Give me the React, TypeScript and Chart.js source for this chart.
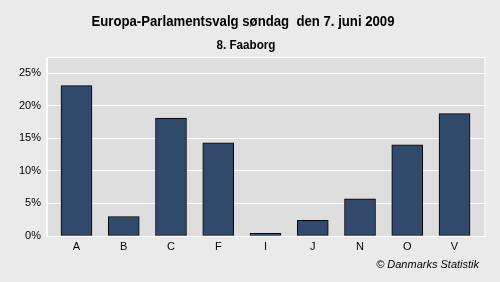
import React, { useEffect, useRef } from 'react';
import { Chart, registerables } from 'chart.js';
Chart.register(...registerables);

const categories = ['A', 'B', 'C', 'F', 'I', 'J', 'N', 'O', 'V'];
const values = [23.1, 3.0, 18.1, 14.3, 0.4, 2.4, 5.7, 14.0, 18.8];
const yMax = 27.5;
const yStep = 5;
const titleText = 'Europa-Parlamentsvalg søndag  den 7. juni 2009';
const subtitleText = '8. Faaborg';
const creditText = '© Danmarks Statistik';

const OUTER_BG = '#EAEAEA';
const PLOT_BG = '#DEDEDE';
const BAR_COLOR = '#314A6C';

function drawNarrow(ctx: CanvasRenderingContext2D, text: string, cx: number, y: number, targetWidth: number) {
  const w = ctx.measureText(text).width;
  const s = targetWidth / w;
  ctx.save();
  ctx.translate(cx, y);
  ctx.scale(s, 1);
  ctx.textAlign = 'center';
  ctx.fillText(text, 0, 0);
  ctx.restore();
}

const decorPlugin = {
  id: 'decor',
  beforeDraw(chart: any) {
    const { ctx, chartArea } = chart;
    ctx.save();
    ctx.fillStyle = OUTER_BG;
    ctx.fillRect(0, 0, chart.width, chart.height);
    ctx.fillStyle = PLOT_BG;
    ctx.fillRect(chartArea.left, chartArea.top, chartArea.right - chartArea.left, chartArea.bottom - chartArea.top);
    ctx.restore();
  },
  afterDraw(chart: any) {
    const { ctx, chartArea } = chart;
    ctx.save();
    ctx.strokeStyle = '#FFFFFF';
    ctx.lineWidth = 1;
    ctx.strokeRect(chartArea.left - 0.5, chartArea.top + 0.5, chartArea.right - chartArea.left + 0.5, chartArea.bottom - chartArea.top);
    ctx.fillStyle = '#000';
    ctx.textBaseline = 'alphabetic';
    ctx.font = 'bold 15px "Liberation Sans", Arial, sans-serif';
    drawNarrow(ctx, titleText, 243, 26, 303);
    ctx.font = 'bold 12px "Liberation Sans", Arial, sans-serif';
    drawNarrow(ctx, subtitleText, 246, 49, 59);
    ctx.font = 'italic 11px "Liberation Sans", Arial, sans-serif';
    ctx.textAlign = 'right';
    ctx.fillText(creditText, 479, 268);
    ctx.restore();
  },
};

export default function App() {
  const ref = useRef<HTMLCanvasElement>(null);
  useEffect(() => {
    if (!ref.current) return;
    Chart.defaults.font.family = '"Liberation Sans", Arial, sans-serif';
    Chart.defaults.font.size = 11;
    Chart.defaults.color = '#000';
    const chart = new Chart(ref.current, {
      type: 'bar',
      data: {
        datasets: [
          {
            data: values.map((v, i) => ({ x: i, y: v })),
            backgroundColor: BAR_COLOR,
            borderColor: '#000',
            borderWidth: 1,
            borderSkipped: false,
            barThickness: 31,
          },
        ],
      },
      options: {
        animation: false,
        responsive: false,
        maintainAspectRatio: false,
        layout: { padding: { top: 57, left: 8, right: 15, bottom: 22 } },
        plugins: { legend: { display: false }, tooltip: { enabled: false }, title: { display: false } },
        scales: {
          x: {
            type: 'linear',
            offset: false,
            min: -0.624,
            max: 8.645,
            grid: { display: false, drawTicks: false, offset: false },
            border: { color: '#FFFFFF' },
            ticks: {
              stepSize: 1,
              includeBounds: false,
              autoSkip: false,
              maxRotation: 0,
              padding: 4,
              callback: (v: any) => (Number.isInteger(v) ? categories[v] ?? '' : ''),
            },
            afterFit: (s: any) => {
              s.height = 24;
            },
          },
          y: {
            min: 0,
            max: yMax,
            grid: { color: '#FFFFFF', drawTicks: false },
            border: { color: '#FFFFFF' },
            ticks: {
              stepSize: yStep,
              includeBounds: false,
              padding: 6,
              callback: (v: any) => v + '%',
            },
            afterFit: (s: any) => {
              s.width = 39;
            },
          },
        },
      },
      plugins: [decorPlugin],
    });
    return () => chart.destroy();
  }, []);
  return (
    <div style={{ position: 'fixed', left: 0, top: 0, width: 500, height: 282 }}>
      <canvas ref={ref} width={500} height={282} style={{ display: 'block', width: 500, height: 282 }} />
    </div>
  );
}
